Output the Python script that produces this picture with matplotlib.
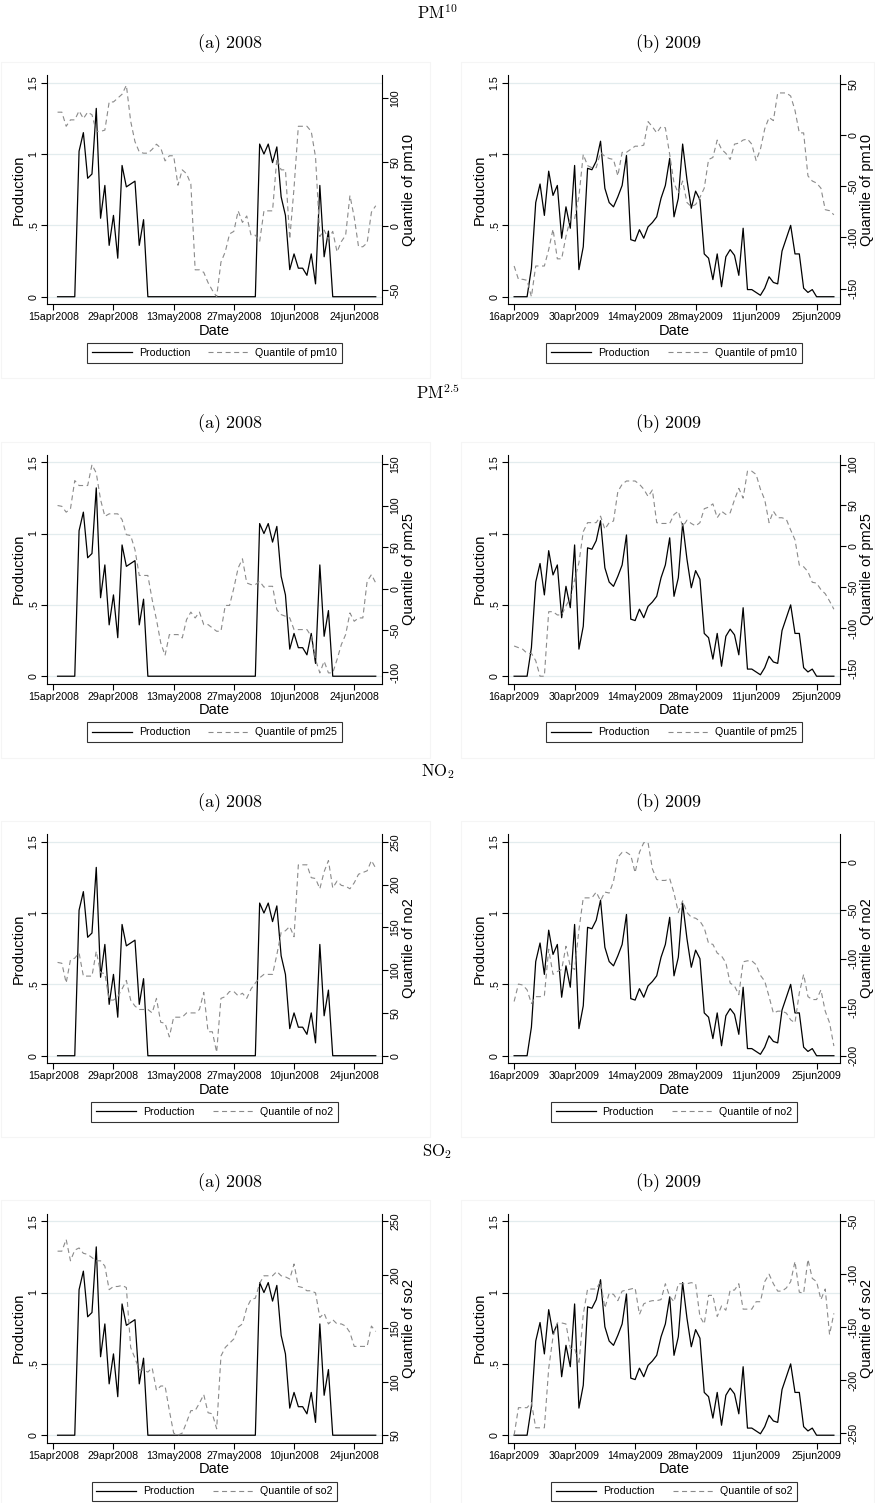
import numpy as np
import pandas as pd
import matplotlib
matplotlib.use("Agg")
import matplotlib.pyplot as plt
from matplotlib.lines import Line2D
from matplotlib.patches import Rectangle

plt.rcParams['font.family'] = ['Liberation Sans', 'DejaVu Sans']
plt.rcParams['mathtext.fontset'] = 'cm'

# ---------------- data ----------------
dates_2008 = pd.date_range('2008-04-16', '2008-06-29')
dates_2009 = pd.date_range('2009-04-16', '2009-06-29')

xticks_2008 = ['2008-04-15', '2008-04-29', '2008-05-13', '2008-05-27', '2008-06-10', '2008-06-24']
xticklabels_2008 = ['15apr2008', '29apr2008', '13may2008', '27may2008', '10jun2008', '24jun2008']
xticks_2009 = ['2009-04-16', '2009-04-30', '2009-05-14', '2009-05-28', '2009-06-11', '2009-06-25']
xticklabels_2009 = ['16apr2009', '30apr2009', '14may2009', '28may2009', '11jun2009', '25jun2009']

prod_2008 = [0, 0, 0, 0, 0, 1.02, 1.15, 0.83, 0.86, 1.32, 0.55, 0.78, 0.36, 0.57, 0.27,
             0.92, 0.77, 0.79, 0.81, 0.36, 0.54, 0, 0, 0, 0, 0, 0, 0, 0, 0,
             0, 0, 0, 0, 0, 0, 0, 0, 0, 0, 0, 0, 0, 0, 0,
             0, 0, 1.07, 1.00, 1.07, 0.94, 1.05, 0.70, 0.57, 0.19, 0.30, 0.20, 0.20, 0.15, 0.30,
             0.09, 0.78, 0.28, 0.46, 0, 0, 0, 0, 0, 0, 0, 0, 0, 0, 0]
prod_2009 = [0, 0, 0, 0, 0.20, 0.66, 0.79, 0.57, 0.88, 0.71, 0.78, 0.41, 0.63, 0.48, 0.92,
             0.19, 0.35, 0.90, 0.89, 0.95, 1.09, 0.76, 0.66, 0.63, 0.70, 0.78, 0.99, 0.40, 0.39, 0.47,
             0.41, 0.49, 0.52, 0.56, 0.69, 0.78, 0.97, 0.56, 0.69, 1.07, 0.82, 0.62, 0.74, 0.68, 0.30,
             0.27, 0.12, 0.30, 0.07, 0.28, 0.33, 0.29, 0.15, 0.48, 0.05, 0.05, 0.03, 0.01, 0.06, 0.14,
             0.10, 0.09, 0.32, 0.41, 0.50, 0.30, 0.30, 0.06, 0.03, 0.05, 0, 0, 0, 0, 0]

pm10_2008 = [89, 89, 78, 83, 83, 90, 84, 89, 87, 74, 74, 75, 97, 97, 100,
             103, 110, 82, 66, 58, 57, 57, 60, 64, 61, 51, 55, 55, 32, 44,
             41, 33, -34, -34, -36, -44, -50, -55, -28, -20, -6, -4, 12, 3, 8,
             -7, -7, -12, 12, 12, 12, 53, 44, 44, -10, 30, 78, 78, 78, 74,
             54, -8, -3, -10, -4, -20, -12, -7, 24, 7, -16, -16, -13, 11, 16]
pm10_2009 = [-128, -141, -141, -142, -158, -128, -128, -128, -112, -92, -121, -121, -99, -82, -82,
             -60, -19, -30, -32, -32, -17, -21, -23, -24, -40, -17, -17, -14, -11, -11,
             -10, 13, 8, 2, 8, 7, -19, -47, -57, -45, -66, -70, -68, -61, -52,
             -24, -22, -5, -14, -18, -24, -9, -8, -5, -4, -9, -25, -14, 6, 17,
             14, 41, 41, 41, 38, 24, 2, 2, -40, -45, -47, -52, -73, -74, -78]
pm25_2008 = [100, 99, 92, 96, 130, 124, 124, 124, 149, 139, 107, 87, 90, 90, 90,
             83, 65, 64, 47, 16, 16, 16, -13, -37, -65, -80, -55, -55, -55, -59,
             -37, -28, -35, -28, -43, -43, -47, -51, -51, -20, -20, 1, 25, 36, 7,
             5, 5, 9, 2, 3, 3, -25, -31, -33, -35, -49, -49, -49, -49, -57,
             -85, -101, -87, -101, -101, -85, -67, -55, -29, -39, -35, -35, 9, 17, 7]
pm25_2009 = [-122, -124, -126, -131, -131, -140, -159, -159, -80, -80, -84, -84, -73, -63, -41,
             -20, 18, 29, 29, 29, 37, 21, 29, 31, 67, 76, 80, 80, 80, 76,
             70, 61, 69, 29, 28, 28, 28, 39, 43, 24, 32, 28, 25, 29, 46,
             48, 52, 35, 43, 39, 41, 57, 71, 59, 92, 92, 88, 70, 57, 29,
             43, 35, 35, 33, 20, 8, -23, -25, -31, -44, -45, -53, -58, -67, -77]
no2_2008 = [109, 108, 85, 112, 114, 120, 93, 93, 93, 122, 97, 96, 65, 65, 69,
            78, 88, 65, 58, 54, 54, 54, 50, 67, 39, 38, 22, 45, 45, 45,
            50, 50, 50, 54, 74, 28, 28, 4, 67, 69, 75, 75, 70, 73, 67,
            78, 85, 91, 95, 95, 95, 118, 144, 146, 151, 139, 223, 223, 223, 208,
            207, 195, 215, 228, 196, 204, 199, 198, 195, 202, 212, 214, 216, 228, 219]
no2_2009 = [-144, -126, -127, -132, -146, -139, -139, -138, -90, -116, -113, -111, -87, -108, -111,
            -70, -37, -37, -37, -31, -40, -31, -32, -20, 5, 10, 10, 7, -11, 10,
            20, 20, -7, -18, -19, -19, -17, -32, -52, -40, -52, -57, -58, -61, -68,
            -84, -85, -94, -97, -104, -125, -128, -137, -103, -102, -102, -106, -117, -123, -139,
            -156, -154, -154, -156, -163, -166, -135, -116, -139, -142, -142, -132, -154, -166, -190]
so2_2008 = [222, 222, 233, 213, 223, 225, 220, 219, 216, 213, 213, 208, 186, 189, 189,
            190, 188, 132, 122, 111, 111, 109, 113, 92, 96, 96, 73, 52, 50, 52,
            62, 73, 73, 80, 88, 71, 70, 56, 124, 132, 136, 140, 151, 154, 169,
            177, 178, 192, 199, 199, 199, 203, 199, 198, 196, 210, 189, 188, 185, 185,
            183, 160, 164, 154, 158, 154, 154, 152, 146, 133, 133, 133, 133, 152, 147]
so2_2009 = [-252, -226, -226, -226, -221, -245, -245, -245, -189, -159, -146, -146, -147, -170, -170,
            -185, -138, -114, -114, -114, -107, -132, -118, -119, -125, -116, -115, -114, -113, -138,
            -128, -126, -125, -125, -124, -109, -121, -126, -109, -109, -109, -108, -109, -140, -147,
            -120, -120, -140, -130, -134, -115, -115, -109, -133, -133, -133, -126, -126, -107, -100,
            -109, -116, -116, -113, -107, -88, -117, -118, -86, -104, -107, -124, -114, -157, -137]

row_titles = [r'$\mathrm{PM}^{10}$', r'$\mathrm{PM}^{2.5}$', r'$\mathrm{NO}_2$', r'$\mathrm{SO}_2$']
pollutant_names = ['pm10', 'pm25', 'no2', 'so2']
series_2008 = [pm10_2008, pm25_2008, no2_2008, so2_2008]
series_2009 = [pm10_2009, pm25_2009, no2_2009, so2_2009]
right_ticks_2008 = [[-50, 0, 50, 100], [-100, -50, 0, 50, 100, 150],
                    [0, 50, 100, 150, 200, 250], [50, 100, 150, 200, 250]]
right_ticks_2009 = [[-150, -100, -50, 0, 50], [-150, -100, -50, 0, 50, 100],
                    [-200, -150, -100, -50, 0], [-250, -200, -150, -100, -50]]
right_range_2008 = [(-55, 112), (-105, 152), (0, 250), (50, 250)]
right_range_2009 = [(-158, 51), (-159, 103), (-200, 21), (-252, -50)]
left_ticks = [0, 0.5, 1, 1.5]
left_ticklabels = ['0', '.5', '1', '1.5']

# ---------------- layout ----------------
W, H = 875, 1503
fig = plt.figure(figsize=(W / 100, H / 100), dpi=100)
fig.patch.set_facecolor('white')


def box(x0, y0, x1, y1):
    return [x0 / W, 1 - y1 / H, (x1 - x0) / W, (y1 - y0) / H]


ROW = 379.5
GRID = '#e3ecee'
DASH = '#8a8a8a'
lo_l, hi_l = -0.051, 1.554


def draw_panel(x0, x1, dy, dates, prod, q, rticks, rrange, xt, xtl, xlim, name):
    ax = fig.add_axes(box(x0, 75 + dy, x1, 304 + dy))
    ax.set_facecolor('white')
    ax.plot(dates, prod, color='black', lw=0.9, zorder=3)
    ax.set_ylim(lo_l, hi_l)
    ax.set_yticks(left_ticks)
    ax.set_yticklabels(left_ticklabels, rotation=90, va='center', fontsize=7.7)
    for t in left_ticks:
        ax.axhline(t, color=GRID, lw=0.9, zorder=0)
    ax.set_xlim(pd.Timestamp(xlim[0]), pd.Timestamp(xlim[1]))
    ax.set_xticks(pd.to_datetime(xt))
    ax.set_xticklabels(xtl, fontsize=7.7)
    ax.set_xlabel('Date', fontsize=10.5, labelpad=1.0)
    ax.set_ylabel('Production', fontsize=10.5, labelpad=2.0)
    ax.tick_params(axis='both', direction='out', length=4, width=0.8, pad=2, color='black')
    ax.spines['top'].set_visible(False)
    ax.spines['right'].set_visible(False)
    for s in ('left', 'bottom'):
        ax.spines[s].set_linewidth(0.8)

    ax2 = ax.twinx()
    ax2.plot(dates, q, color=DASH, lw=0.8, linestyle=(0, (4.5, 3.2)), zorder=4)
    lo, hi = rrange
    r = hi - lo
    ax2.set_ylim(lo + lo_l / 1.5 * r, hi + (hi_l - 1.5) / 1.5 * r)
    ax2.set_yticks(rticks)
    ax2.set_yticklabels([str(t) for t in rticks], rotation=90, va='center', fontsize=7.7)
    ax2.set_ylabel('Quantile of ' + name, fontsize=10.5, labelpad=1.5)
    ax2.tick_params(axis='y', direction='out', length=4, width=0.8, pad=2)
    ax2.spines['top'].set_visible(False)
    ax2.spines['left'].set_visible(False)
    ax2.spines['bottom'].set_visible(False)
    ax2.spines['right'].set_linewidth(0.8)

    handles = [Line2D([], [], color='black', lw=0.9),
               Line2D([], [], color=DASH, lw=0.8, linestyle=(0, (4.5, 3.2)))]
    cx = (x0 + x1) / 2 / W
    leg = fig.legend(handles, ['Production', 'Quantile of ' + name], loc='upper center',
                     bbox_to_anchor=(cx, 1 - (343 + dy) / H), bbox_transform=fig.transFigure,
                     ncol=2, fontsize=7.7, frameon=True, fancybox=False, edgecolor='black',
                     handlelength=3.75, handletextpad=0.65, columnspacing=1.7,
                     borderpad=0.45, borderaxespad=0)
    leg.get_frame().set_linewidth(0.8)


for r in range(4):
    dy = r * ROW
    fig.text(437.5 / W, 1 - (13 + dy) / H, row_titles[r], ha='center', va='center', fontsize=12)
    fig.text(230 / W, 1 - (44 + dy) / H, r'$\mathrm{(a)\ 2008}$', ha='center', va='center', fontsize=13)
    fig.text(668 / W, 1 - (44 + dy) / H, r'$\mathrm{(b)\ 2009}$', ha='center', va='center', fontsize=13)
    # very faint graph-region borders
    fig.patches.append(Rectangle((1 / W, 1 - (378 + dy) / H), 429 / W, 316 / H,
                                 transform=fig.transFigure, fill=False, ec='#f5f5f5', lw=0.8))
    fig.patches.append(Rectangle((461 / W, 1 - (378 + dy) / H), 413 / W, 316 / H,
                                 transform=fig.transFigure, fill=False, ec='#f5f5f5', lw=0.8))
    draw_panel(47, 382, dy, dates_2008, prod_2008, series_2008[r], right_ticks_2008[r],
               right_range_2008[r], xticks_2008, xticklabels_2008,
               ('2008-04-13 13:00', '2008-06-30 11:00'), pollutant_names[r])
    draw_panel(508, 840, dy, dates_2009, prod_2009, series_2009[r], right_ticks_2009[r],
               right_range_2009[r], xticks_2009, xticklabels_2009,
               ('2009-04-14 14:00', '2009-06-30 10:00'), pollutant_names[r])

fig.savefig('out.png', dpi=100, facecolor='white')
